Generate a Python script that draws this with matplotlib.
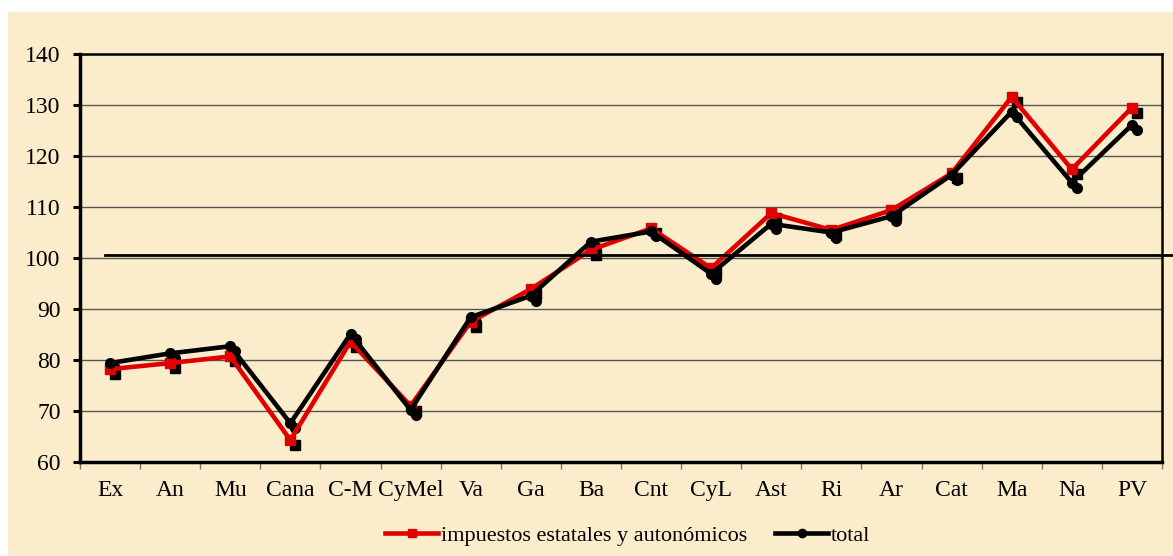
import numpy as np
import matplotlib.pyplot as plt
import matplotlib.transforms as mtransforms
from matplotlib.patches import Rectangle

plt.rcParams['font.family'] = ['Liberation Serif', 'DejaVu Serif']

regiones = ['Ex', 'An', 'Mu', 'Cana', 'C-M', 'CyMel', 'Va', 'Ga', 'Ba',
            'Cnt', 'CyL', 'Ast', 'Ri', 'Ar', 'Cat', 'Ma', 'Na', 'PV']
impuestos = [78.2, 79.4, 80.7, 64.3, 83.6, 71.0, 87.5, 93.9, 101.6,
             105.8, 98.0, 108.8, 105.5, 109.4, 116.6, 131.6, 117.4, 129.5]
total = [79.4, 81.3, 82.7, 67.6, 85.1, 70.2, 88.4, 92.6, 103.2,
         105.2, 96.9, 106.7, 105.0, 108.2, 116.3, 128.7, 114.8, 126.1]
media = 100.6

bg = '#FBEDCB'
fig = plt.figure(figsize=(11.73, 5.56), dpi=100, facecolor='white')
fig.patches.append(Rectangle((8 / 1173, 0), 1 - 8 / 1173, 1 - 12 / 556,
                             transform=fig.transFigure, facecolor=bg,
                             edgecolor='none', zorder=-10))
ax = fig.add_axes([80 / 1173, 94 / 556, 1082 / 1173, 408 / 556])
ax.set_facecolor(bg)

x = np.arange(len(regiones))

# sombras de los marcadores (efecto de Excel)
sombra = mtransforms.offset_copy(ax.transData, fig=fig, x=5, y=-5, units='dots')
ax.plot(x, impuestos, ls='none', marker='s', ms=7, color='black',
        transform=sombra, zorder=2)
ax.plot(x, total, ls='none', marker='o', ms=7, color='black',
        transform=sombra, zorder=2)

ax.plot(x, impuestos, color='#E00000', lw=3.3, marker='s', ms=7,
        label='impuestos estatales y autonómicos', zorder=3)
ax.plot(x, total, color='black', lw=3.3, marker='o', ms=7,
        label='total', zorder=4)

ax.axhline(media, xmin=0.023, xmax=1.0102, color='black', lw=2,
           clip_on=False, zorder=5)

ax.set_xlim(-0.5, len(regiones) - 0.5)
ax.set_ylim(60, 140)
ax.set_yticks(range(60, 141, 10))
ax.yaxis.grid(True, color='#555555', lw=1)
ax.set_axisbelow(True)

ax.set_xticks(x)
ax.set_xticklabels(regiones, fontsize=17)
ax.set_xticks(np.arange(-0.5, len(regiones)), minor=True)
ax.tick_params(axis='x', which='major', length=0, pad=13)
ax.tick_params(axis='x', which='minor', length=5, width=1, color='#777777')
ax.tick_params(axis='y', labelsize=17, length=5, width=2.2, pad=9)

for s in ['left', 'bottom']:
    ax.spines[s].set_linewidth(2.5)
for s in ['top', 'right']:
    ax.spines[s].set_linewidth(1.8)

fig.legend(loc='center', bbox_to_anchor=(0.535, 0.036), ncol=2, frameon=False,
           fontsize=16, handlelength=2.4, handletextpad=0.12,
           columnspacing=1.25, markerscale=0.85)

fig.savefig('out.png', dpi=100, facecolor=fig.get_facecolor())
